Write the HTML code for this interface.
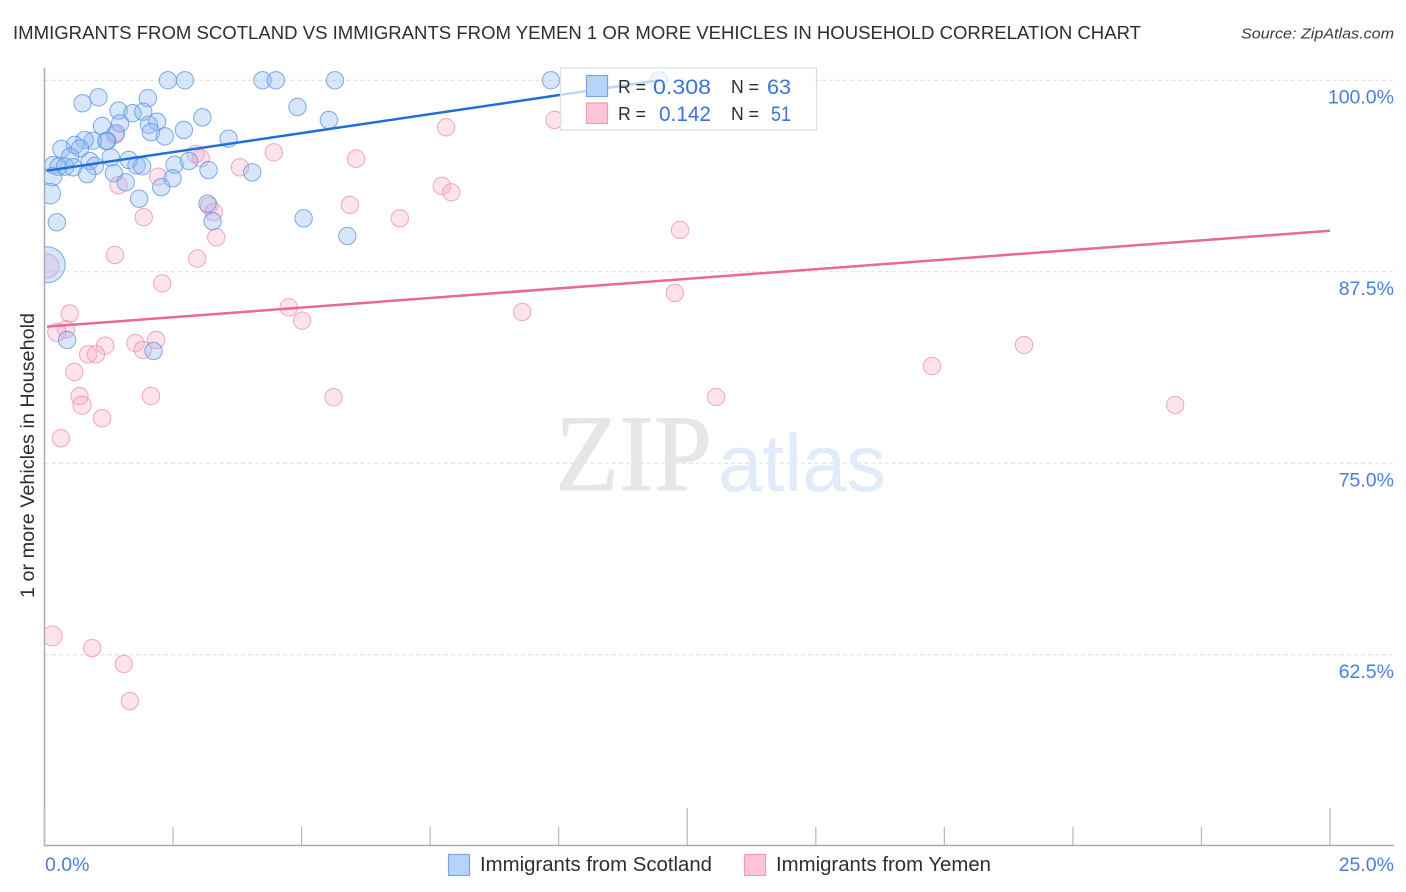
<!DOCTYPE html>
<html lang="en">
<head>
<meta charset="utf-8">
<title>Immigrants from Scotland vs Immigrants from Yemen correlation chart</title>
<style>
html,body{margin:0;padding:0;background:#fff;}
svg{display:block;font-family:"Liberation Sans",sans-serif;}
</style>
</head>
<body>
<svg id="chart" xmlns="http://www.w3.org/2000/svg" width="1406" height="892" viewBox="0 0 1406 892">
  <defs><clipPath id="plot-clip"><rect x="45" y="0" width="1361" height="892"/></clipPath></defs>
  <text x="13" y="39" font-size="18.5" fill="#2e2e2e" textLength="1128" lengthAdjust="spacingAndGlyphs">IMMIGRANTS FROM SCOTLAND VS IMMIGRANTS FROM YEMEN 1 OR MORE VEHICLES IN HOUSEHOLD CORRELATION CHART</text>
  <text x="1241" y="38.500" font-size="15" font-style="italic" fill="#3a3a3a" textLength="153" lengthAdjust="spacingAndGlyphs">Source: ZipAtlas.com</text>
  <g id="grid"></g>
  <g>
    <text x="555" y="490" font-family="'Liberation Serif',serif" font-size="109" fill="#e6e6e6" stroke="#e6e6e6" stroke-width="0.8" textLength="157" lengthAdjust="spacingAndGlyphs">ZIP</text>
    <text x="718" y="491" font-size="81" fill="#e2ebf9" textLength="168" lengthAdjust="spacingAndGlyphs">atlas</text>
  </g>
  <g id="axes"></g>
  <g id="marks" clip-path="url(#plot-clip)"></g>
  <g id="trends"></g>
  <text transform="translate(34,598) rotate(-90)" font-size="19" fill="#2e2e2e" textLength="285" lengthAdjust="spacingAndGlyphs">1 or more Vehicles in Household</text>
  <g>
    <rect x="560.500" y="68" width="256" height="62" fill="#fff" fill-opacity="0.72" stroke="#dcdcdc" stroke-width="1.200"/>
    <rect x="586.500" y="75.500" width="21" height="21" fill="#b6d3f8" stroke="#7aa6e2" stroke-width="1.200"/>
    <rect x="586.500" y="103" width="21" height="20.500" fill="#fcc6d8" stroke="#f09ab8" stroke-width="1.200"/>
    <text x="618" y="93" font-size="18" fill="#2e2e2e" textLength="28" lengthAdjust="spacingAndGlyphs">R =</text>
    <text x="653" y="94" font-size="21" fill="#3a75d2" textLength="58" lengthAdjust="spacingAndGlyphs">0.308</text>
    <text x="731" y="93" font-size="18" fill="#2e2e2e" textLength="28" lengthAdjust="spacingAndGlyphs">N =</text>
    <text x="767" y="94" font-size="21" fill="#3a75d2" textLength="24" lengthAdjust="spacingAndGlyphs">63</text>
    <text x="618" y="120" font-size="18" fill="#2e2e2e" textLength="28" lengthAdjust="spacingAndGlyphs">R =</text>
    <text x="659" y="121" font-size="21" fill="#3a75d2" textLength="52" lengthAdjust="spacingAndGlyphs">0.142</text>
    <text x="731" y="120" font-size="18" fill="#2e2e2e" textLength="28" lengthAdjust="spacingAndGlyphs">N =</text>
    <text x="771" y="121" font-size="21" fill="#3a75d2" textLength="20" lengthAdjust="spacingAndGlyphs">51</text>
  </g>
  <g>
    <rect x="448.500" y="854.500" width="21" height="21" fill="#b6d3f8" stroke="#7aa6e2" stroke-width="1.200"/>
    <text x="480" y="871" font-size="20" fill="#2e2e2e" textLength="232" lengthAdjust="spacingAndGlyphs">Immigrants from Scotland</text>
    <rect x="744.500" y="854.500" width="21" height="21" fill="#fcc6d8" stroke="#f09ab8" stroke-width="1.200"/>
    <text x="776" y="871" font-size="20" fill="#2e2e2e" textLength="215" lengthAdjust="spacingAndGlyphs">Immigrants from Yemen</text>
  </g>
</svg>
<script>
const scotlandX = [2.40,2.73,4.24,4.50,5.65,9.85,11.95,1.05,0.74,2.01,1.44,1.71,1.92,4.92,5.53,3.07,2.19,2.03,2.07,1.47,1.12,2.71,2.34,1.39,1.22,1.20,3.58,0.94,0.78,0.59,0.33,0.69,0.50,1.29,1.64,0.88,0.98,1.79,1.90,2.53,2.81,3.19,4.04,0.17,0.27,0.40,0.56,0.83,1.35,2.49,1.58,2.27,0.16,0.11,1.84,3.17,3.27,0.24,5.04,5.89,0.05,0.44,2.12];
const scotlandY = [100,100,100,100,100,100,100,98.89,98.50,98.83,98.02,97.85,97.95,98.26,97.41,97.58,97.30,97.10,96.61,97.19,97.02,96.76,96.34,96.54,96.04,96.04,96.19,96.06,96.10,95.78,95.52,95.56,95.01,94.97,94.80,94.73,94.41,94.45,94.39,94.49,94.73,94.14,93.99,94.47,94.36,94.36,94.32,93.88,93.93,93.60,93.34,93.02,93.71,92.60,92.27,91.95,90.80,90.73,90.99,89.84,87.96,83.05,82.33];
const scotlandWeight = [1,1,1,1,1,1,1,1,1,1,1,1,1,1,1,1,1,1,1,1,1,1,1,1,1,1,1,1,1,1,1,1,1,1,1,1,1,1,1,1,1,1,1,1,1,1,1,1,1,1,1,1,1.1,1.4,1,1,1,1,1,1,4.3,1,1];
const yemenX = [1.37,2.94,3.04,4.46,3.80,2.21,1.44,1.93,3.20,3.29,3.34,1.37,2.97,2.29,0.05,4.75,5.01,0.49,0.42,0.24,1.18,0.85,1.00,1.77,2.17,1.91,0.58,0.68,0.73,1.12,0.32,2.07,5.62,7.81,9.92,6.06,7.73,7.91,5.94,6.91,12.36,12.26,9.29,19.05,17.26,13.06,21.99,0.15,0.93,1.54,1.66];
const yemenY = [96.43,95.19,94.91,95.30,94.32,93.71,93.15,91.06,91.81,91.40,89.75,88.60,88.36,86.75,87.88,85.18,84.31,84.77,83.75,83.55,82.68,82.11,82.11,82.85,83.05,82.40,80.96,79.39,78.79,77.94,76.63,79.39,79.31,96.93,97.41,94.88,93.10,92.69,91.86,90.99,90.23,86.12,84.88,82.72,81.35,79.33,78.81,63.73,62.94,61.90,59.48];
const yemenWeight = [1,1,1,1,1,1,1,1,1,1,1,1,1,1,1.9,1,1,1,1,1.1,1,1,1,1,1,1,1,1,1.1,1,1,1,1,1,1,1,1,1,1,1,1,1,1,1,1,1,1,1.3,1,1,1];
const scotlandTrendX = [0.05,11.95];
const scotlandTrendY = [94.10,100];
const yemenTrendX = [0.05,25];
const yemenTrendY = [83.92,90.18];
const xTickValues = [0,2.5,5,7.5,10,12.5,15,17.5,20,22.5,25];
const xMajorTicks = [0,12.5,25];
const xTickLabels = ["0.0%","25.0%"];
const yGridValues = [100,87.5,75,62.5];
const yTickLabels = ["100.0%","87.5%","75.0%","62.5%"];

const NS = "http://www.w3.org/2000/svg";
const xScale = v => 44.5 + v * 51.42;
const yScale = v => 80.3 + (100 - v) * 15.32;
const radius = w => 8.7 * Math.sqrt(w);
function make(tag, attrs, parent) {
  const el = document.createElementNS(NS, tag);
  for (const k in attrs) el.setAttribute(k, attrs[k]);
  parent.appendChild(el);
  return el;
}
const grid = document.getElementById("grid");
const axes = document.getElementById("axes");
const marks = document.getElementById("marks");
const trends = document.getElementById("trends");

yGridValues.forEach((v, i) => {
  const g = make("line", {x1: 45, x2: 1393, y1: yScale(v), y2: yScale(v), stroke: "#dedede", "stroke-width": 1, "stroke-dasharray": "4 3"}, grid);
  
  
  const t = make("text", {x: 1394, y: yScale(v) + 23, "font-size": 19.5, fill: "#4a7fd8", "text-anchor": "end"}, axes);
  t.textContent = yTickLabels[i];
  
  
});

const yAxisLine = make("line", {x1: 44.5, x2: 44.5, y1: 68, y2: 846, stroke: "#aaa", "stroke-width": 1.5}, axes);


const xAxisLine = make("line", {x1: 44, x2: 1394, y1: 845.5, y2: 845.5, stroke: "#aaa", "stroke-width": 1.5}, axes);



xTickValues.forEach(v => {
  const top = xMajorTicks.includes(v) ? 808 : 827;
  const tick = make("line", {x1: xScale(v), x2: xScale(v), y1: top, y2: 845, stroke: "#b8b8b8", "stroke-width": 1.2}, axes);
  
  
});
const xLabelLeft = make("text", {x: 45, y: 871, "font-size": 19.5, fill: "#4a7fd8"}, axes);
xLabelLeft.textContent = xTickLabels[0];


const xLabelRight = make("text", {x: 1394, y: 871, "font-size": 19.5, fill: "#4a7fd8", "text-anchor": "end"}, axes);
xLabelRight.textContent = xTickLabels[1];



yemenX.forEach((x, i) => {
  const c = make("circle", {cx: xScale(x), cy: yScale(yemenY[i]), r: radius(yemenWeight[i]), fill: "#f9a8c4", "fill-opacity": 0.32, stroke: "#ee94b4", "stroke-opacity": 0.8, "stroke-width": 1}, marks);
  
  
});
scotlandX.forEach((x, i) => {
  const c = make("circle", {cx: xScale(x), cy: yScale(scotlandY[i]), r: radius(scotlandWeight[i]), fill: "#8fbbf0", "fill-opacity": 0.36, stroke: "#5f97e0", "stroke-opacity": 0.8, "stroke-width": 1}, marks);
  
  
});

const blueTrend = make("line", {x1: xScale(scotlandTrendX[0]), y1: yScale(scotlandTrendY[0]), x2: xScale(scotlandTrendX[1]), y2: yScale(scotlandTrendY[1]), stroke: "#1f6fd6", "stroke-width": 2.5}, trends);


const pinkTrend = make("line", {x1: xScale(yemenTrendX[0]), y1: yScale(yemenTrendY[0]), x2: xScale(yemenTrendX[1]), y2: yScale(yemenTrendY[1]), stroke: "#e8689a", "stroke-width": 2.5}, trends);


</script>
</body>
</html>
